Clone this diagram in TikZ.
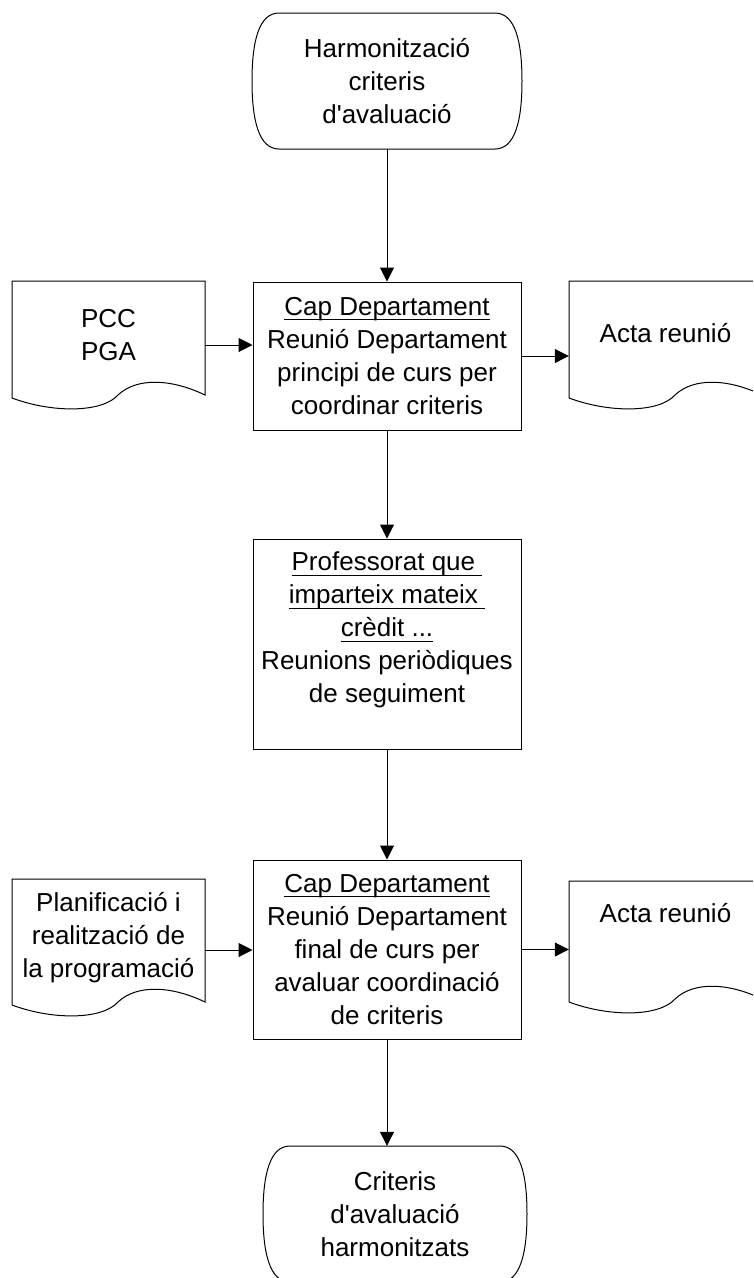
\documentclass[tikz,border=0pt]{standalone}
\usepackage{fontspec}
\setmainfont{Liberation Sans}
\usetikzlibrary{arrows.meta,calc}
\newcommand\myul[1]{\setbox0=\hbox{#1}\rlap{\rule[-5pt]{\wd0}{1.2pt}}\box0}
\begin{document}
\begin{tikzpicture}[x=1pt,y=1pt,
  outl/.style={draw=black, line width=1pt},
  conn/.style={draw=black, line width=1pt, -{Triangle[length=14pt,width=14pt]}},
  txtfont/.style={font=\fontsize{26pt}{33pt}\selectfont},
  procbox/.style={txtfont, draw=black, line width=1pt, minimum width=268pt, align=center, inner sep=0pt},
  termbox/.style={txtfont, minimum width=270pt, minimum height=136pt, align=center, inner sep=0pt},
  docnode/.style={txtfont, minimum width=193pt, align=center, inner sep=0pt},
  docpic/.pic={\draw[outl] (0,0) -- (193,0) -- (193,{-#1+3})
     .. controls (160,{-#1+19}) and (125,{-#1+21}) .. (106,{-#1+3})
     .. controls (90,{-#1-15}) and (40,{-#1-15}) .. (0,-#1) -- cycle;},
  termpic/.pic={\draw[outl] ({-#1+27},68) -- ({#1-27},68)
     .. controls ({#1-7},68) and (#1,40) .. (#1,0)
     .. controls (#1,-40) and ({#1-7},-68) .. ({#1-27},-68)
     -- ({-#1+27},-68)
     .. controls ({-#1+7},-68) and (-#1,-40) .. (-#1,0)
     .. controls (-#1,40) and ({-#1+7},68) .. ({-#1+27},68) -- cycle;}
]
\useasboundingbox (0,0) rectangle (753,-1278);
\fill[white] (0,0) rectangle (753,-1278);
\clip (0,0) rectangle (753,-1278);

% terminals
\node[termbox] (start) at (387,-81) {Harmonització\\criteris\\d\textquotesingle avaluació};
\pic at (start.center) {termpic=135};

\node[termbox, minimum width=264pt] (finish) at (395,-1214) {Criteris\\d\textquotesingle avaluació\\harmonitzats};
\pic at (finish.center) {termpic=132};

% process boxes
\node[procbox, minimum height=148pt] (cap1) at (387,-356)
  {\myul{Cap Departament}\\Reunió Departament\\principi de curs per\\coordinar criteris};
\node[procbox, minimum height=210pt] (prof) at (387,-644)
  {\myul{Professorat que\ }\\\myul{imparteix mateix\ }\\\myul{crèdit ...}\\Reunions periòdiques\\de seguiment\\\mbox{}};
\node[procbox, minimum height=179pt] (cap2) at (387,-949.5)
  {\myul{Cap Departament}\\Reunió Departament\\final de curs per\\avaluar coordinació\\de criteris};

% documents
\node[docnode] (pcc) at (108.5,-335) {PCC\\PGA};
\pic at ([shift={(-96.5,54)}]pcc.center) {docpic=117};
\node[docnode] (acta1) at (665.5,-333) {Acta reunió};
\pic at ([shift={(-96.5,52)}]acta1.center) {docpic=117};
\node[docnode] (plan) at (108.5,-938) {Planificació i\\realització de\\la programació};
\pic at ([shift={(-96.5,59)}]plan.center) {docpic=126};
\node[docnode] (acta2) at (665.5,-913) {Acta reunió};
\pic at ([shift={(-96.5,32)}]acta2.center) {docpic=121};

% connectors
\draw[conn] (start.south) -- (cap1.north);
\draw[conn] (cap1.south) -- (prof.north);
\draw[conn] (prof.south) -- (cap2.north);
\draw[conn] (cap2.south) -- (cap2.south |- finish.north);
\path ([yshift=-10pt]pcc.east) coordinate (a1);
\draw[conn] (a1) -- (a1 -| cap1.west);
\draw[conn] (cap1.east) -- (cap1.east -| acta1.west);
\path ([yshift=-12pt]plan.east) coordinate (a2);
\draw[conn] (a2) -- (a2 -| cap2.west);
\draw[conn] (cap2.east) -- (cap2.east -| acta2.west);
\end{tikzpicture}
\end{document}
